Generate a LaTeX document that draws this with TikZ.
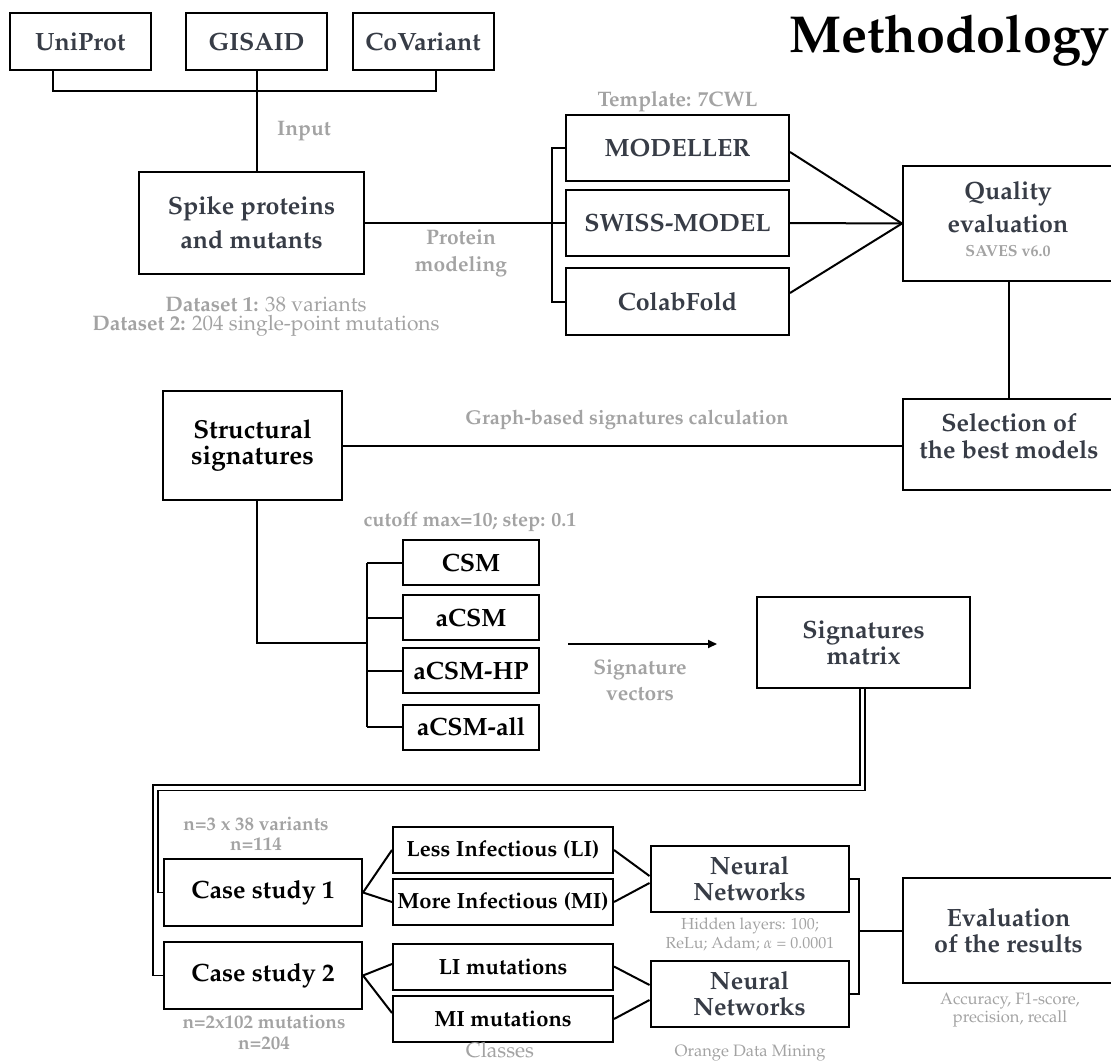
\documentclass[tikz,border=0pt]{standalone}
\usepackage[T1]{fontenc}
\usepackage{mathpazo}
\usetikzlibrary{arrows.meta}

\definecolor{inkbox}{RGB}{55,60,70}
\definecolor{inknote}{RGB}{163,163,163}

\begin{document}
\begin{tikzpicture}[x=1pt, y=-1pt,
		box/.style={draw, line width=2pt, inner sep=0pt, align=center, text=inkbox, font=\bfseries\fontsize{25}{30}\selectfont},
		darkbox/.style={box, text=black},
		boxtext/.style={inner sep=0pt, align=center, text=inkbox},
		note/.style={inner sep=0pt, align=center, text=inknote, font=\fontsize{21}{24}\selectfont},
		boldnote/.style={note, font=\bfseries\fontsize{21}{24}\selectfont},
		wire/.style={line width=2pt},
		thinwire/.style={line width=1.7pt}]
			
			\useasboundingbox (0,0) rectangle (1111,1062);
			\clip (0,0) rectangle (1111,1062);
			
			\node[anchor=base, inner sep=0pt, font=\bfseries\fontsize{52}{60}\selectfont] (title) at (949.5,53) {Methodology};
			
			% sources
			\node[box, minimum width=141, minimum height=57] (uniprot) at (80.3,41.5) {UniProt};
			\node[box, minimum width=141, minimum height=57] (gisaid) at (256.5,41.5) {GISAID};
			\node[box, minimum width=141, minimum height=57] (covariant) at (423,41.5) {CoVariant};
			\node[box, minimum width=225, minimum height=102, font=\bfseries\fontsize{25}{34}\selectfont] (spike) at (251.5,223) {Spike proteins\\and mutants};
			
			\coordinate (inbar) at (0,91);
			\coordinate (uniprotfoot) at ([xshift=-27.3pt]uniprot.south);
			\coordinate (covfoot) at ([xshift=13pt]covariant.south);
			\draw[wire] (uniprotfoot) |- (covfoot |- inbar) -- (covfoot);
			\draw[wire] (gisaid.south) -- (gisaid.south |- spike.north);
			
			\node[boldnote] (inputlbl) at (304,131) {Input};
			\node[boldnote, font=\bfseries\fontsize{21}{27}\selectfont] (protlbl) at (461,253.5) {Protein\\modeling};
			\node[note] (set1lbl) at (266,304) {\textbf{Dataset 1:} 38 variants};
			\node[note] (set2lbl) at (266,326) {\textbf{Dataset 2:} 204 single-point mutations};
			
			% modeling
			\node[boldnote] (tmpllbl) at (677.5,102) {Template: 7CWL};
			\node[box, minimum width=223, minimum height=66] (modeller) at (677.5,148) {MODELLER};
			\node[box, minimum width=223, minimum height=66] (swiss) at (677.5,223) {SWISS-MODEL};
			\node[box, minimum width=223, minimum height=67] (colabfold) at (677.5,301.5) {ColabFold};
			
			\draw[wire] (spike.east) -- (swiss.west);
			\draw[wire] (modeller.west) -- ++(-13,0) |- (colabfold.west);
			
			\node[box, minimum width=211, minimum height=115] (quality) at (1008.5,223.5) {};
			\node[boxtext, font=\bfseries\fontsize{25}{33}\selectfont] (qualitytxt) at (1008,207.5) {Quality\\evaluation};
			\node[boldnote, font=\bfseries\fontsize{16}{18}\selectfont] (saveslbl) at (1008,251) {SAVES v6.0};
			
			\draw[wire] ([yshift=-4pt]modeller.east) -- (quality.west);
			\draw[wire] (swiss.east) -- (quality.west);
			\draw[wire] ([yshift=8.5pt]colabfold.east) -- (quality.west);
			
			\node[box, minimum width=211, minimum height=91] (selection) at (1008.5,444.5) {};
			\node[boxtext, font=\bfseries\fontsize{25}{27}\selectfont] (selectiontxt) at (1009,436) {Selection of\\the best models};
			\draw[wire] (quality.south) -- (selection.north);
			
			% signatures
			\node[darkbox, minimum width=179, minimum height=109, font=\bfseries\fontsize{26}{26}\selectfont] (structural) at (252.5,445.5) {Structural\\signatures};
			\node[boldnote, font=\bfseries\fontsize{20}{24}\selectfont] (graphlbl) at (627,420) {Graph-based signatures calculation};
			\draw[wire] (structural.east) -- (structural.east -| selection.west);
			
			\coordinate (structfoot) at ([xshift=4.5pt]structural.south);
			\coordinate (csmjoin) at (367,643);
			\draw[wire] (structfoot) |- (csmjoin);
			
			\node[boldnote, font=\bfseries\fontsize{20}{24}\selectfont] (cutlbl) at (470,522) {cutoff max=10; step: 0.1};
			\foreach \name/\txt/\ypos in {csm/CSM/562.5, acsm/aCSM/617.5, acsmhp/aCSM-HP/670.5, acsmall/aCSM-all/727}{
				\node[darkbox, minimum width=136, minimum height=45] (\name) at (471,\ypos) {\txt};
				\draw[wire] (\name.west) -- (\name.west -| csmjoin);
			}
			\draw[wire] (csm.west -| csmjoin) -- (acsmall.west -| csmjoin);
			
			\coordinate (vecstart) at (568,644);
			\coordinate (vecend) at (717,644);
			\draw[wire, -{Triangle[length=9pt,width=8pt]}] (vecstart) -- (vecend);
			\node[boldnote, font=\bfseries\fontsize{21}{26}\selectfont] (veclbl) at (640,680) {Signature\\vectors};
			
			\node[box, minimum width=213, minimum height=91, font=\bfseries\fontsize{25}{26}\selectfont] (sigmatrix) at (863.5,642.5) {Signatures\\matrix};
			
			% case studies
			\node[darkbox, minimum width=198, minimum height=67] (case1) at (263,892.5) {Case study 1};
			\node[darkbox, minimum width=198, minimum height=67] (case2) at (263,975.5) {Case study 2};
			\node[boldnote, font=\bfseries\fontsize{19}{20}\selectfont] (case1lbl) at (256,834) {n=3 x 38 variants\\n=114};
			\node[boldnote, font=\bfseries\fontsize{19}{21}\selectfont] (case2lbl) at (264,1032.5) {n=2x102 mutations\\n=204};
			
			\coordinate (dblA) at (860,785);
			\coordinate (dblB) at (865,790.5);
			\coordinate (dblC) at (153,785);
			\coordinate (dblD) at (158,790.5);
			\draw[thinwire] (sigmatrix.south -| dblA) -- (dblA) -- (dblC) |- (case2.west);
			\draw[thinwire] (sigmatrix.south -| dblB) -- (dblB) -- (dblD) |- (case1.west);
			
			\foreach \name/\txt/\ypos in {lessinf/{Less Infectious (LI)}/850, moreinf/{More Infectious (MI)}/902, limut/{LI mutations}/966.5, mimut/{MI mutations}/1019}{
				\node[darkbox, minimum width=220, minimum height=46, font=\bfseries\fontsize{22}{24}\selectfont] (\name) at (503,\ypos) {\txt};
			}
			\draw[wire] (lessinf.west) -- (case1.east) -- (moreinf.west);
			\draw[wire] ([yshift=2.5pt]limut.west) -- (case2.east) -- ([yshift=6pt]mimut.west);
			\node[note, anchor=base] (classlbl) at (500,1057) {Classes};
			
			% networks
			\node[box, minimum width=198, minimum height=66, font=\bfseries\fontsize{25}{26}\selectfont] (nn1) at (749.5,879) {Neural\\Networks};
			\node[box, minimum width=198, minimum height=66, font=\bfseries\fontsize{25}{26}\selectfont] (nn2) at (749.5,994) {Neural\\Networks};
			\draw[wire] (lessinf.east) -- ([yshift=3pt]nn1.west);
			\draw[wire] (moreinf.east) -- ([yshift=-4pt]nn1.west);
			\draw[wire] (limut.east) -- ([yshift=9pt]nn2.west);
			\draw[wire] (mimut.east) -- ([yshift=-6pt]nn2.west);
			\node[note, font=\fontsize{16}{19}\selectfont] (nnlbl) at (750,935) {Hidden layers: 100;\\ReLu; Adam; $\alpha$ = 0.0001};
			\node[note, anchor=base, font=\fontsize{16.5}{18}\selectfont] (orangelbl) at (750,1056) {Orange Data Mining};
			
			\node[box, minimum width=211, minimum height=105, font=\bfseries\fontsize{25}{26}\selectfont] (evaluation) at (1008.5,930.5) {Evaluation\\of the results};
			\coordinate (nnbar) at (859,0);
			\draw[wire] (nn1.east) -- (nn1.east -| nnbar) -- (nn2.east -| nnbar) -- (nn2.east);
			\draw[wire] (nnbar |- evaluation.west) -- (evaluation.west);
			\node[note, font=\fontsize{16.5}{16}\selectfont] (evallbl) at (1010,1010) {Accuracy, F1-score,\\precision, recall};
			
		\end{tikzpicture}
\end{document}
